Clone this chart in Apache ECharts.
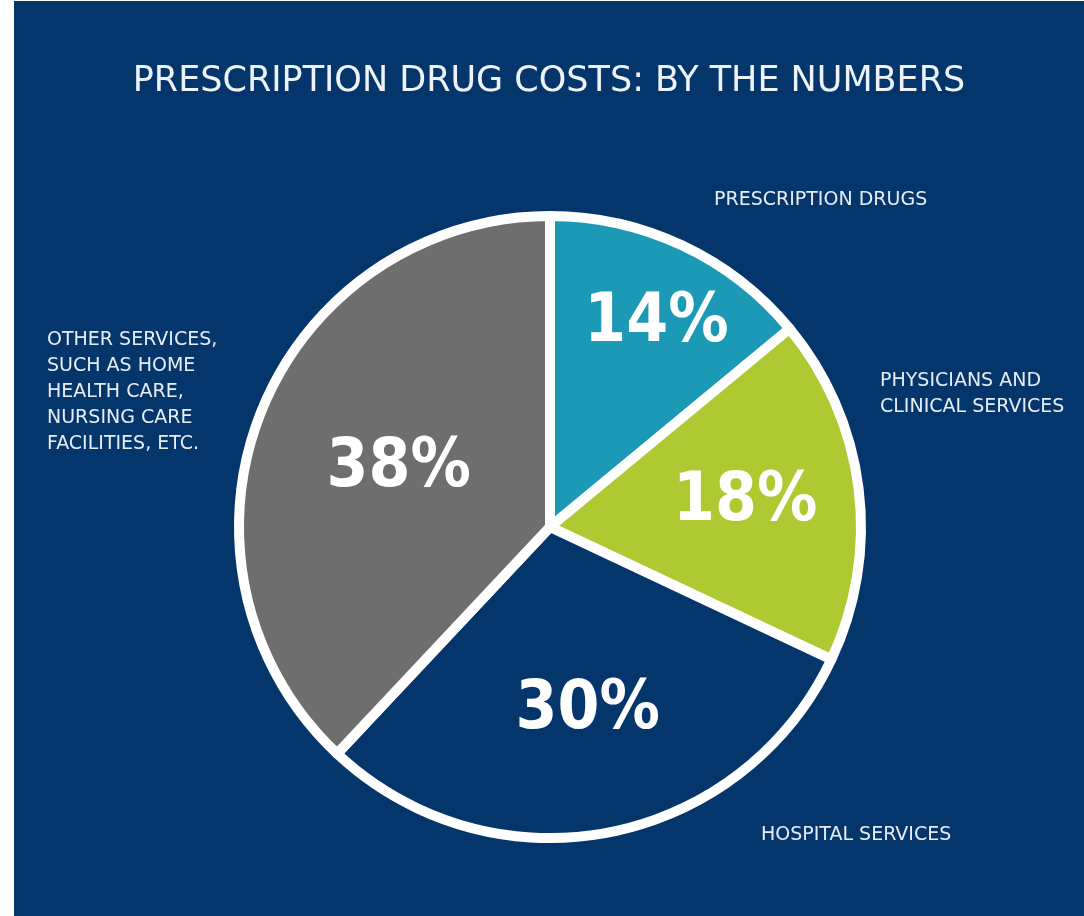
<!DOCTYPE html>
<html>
<head>
<meta charset="utf-8">
<script src="https://cdn.jsdelivr.net/npm/echarts@6/dist/echarts.min.js"></script>
<style>
  html, body { margin: 0; padding: 0; background: #ffffff; }
  #chart { position: absolute; left: 14px; top: 1px; width: 1070px; height: 915px; }
</style>
</head>
<body>
<div id="chart"></div>
<script>
// ---- data ----
const titleText = 'PRESCRIPTION DRUG COSTS: BY THE NUMBERS';
const categories = [
  'PRESCRIPTION DRUGS',
  'PHYSICIANS AND\nCLINICAL SERVICES',
  'HOSPITAL SERVICES',
  'OTHER SERVICES,\nSUCH AS HOME\nHEALTH CARE,\nNURSING CARE\nFACILITIES, ETC.'
];
const shares = [14, 18, 30, 38];

// ---- styles ----
const sliceColors = ['#1b99b5', '#afc932', '#05366b', '#6e6e6e'];
const pctOffsets = [[39, -60], [38, -5], [8, 28], [-4, 0]];
const nameBoxes = [[700, 186], [866, 367], [747, 821], [33, 326]];
const CX = 536, CY = 526, R = 311;

const chart = echarts.init(document.getElementById('chart'), null, { renderer: 'canvas' });

const pieData = categories.map((c, i) => ({
  name: c,
  value: shares[i],
  itemStyle: { color: sliceColors[i] },
  label: { offset: pctOffsets[i] }
}));

chart.setOption({
  backgroundColor: '#05366b',
  animation: false,
  title: {
    text: titleText,
    left: 'center',
    top: 58,
    textStyle: {
      color: '#eef3f8',
      fontFamily: 'DejaVu Sans',
      fontWeight: 'normal',
      fontSize: 35
    }
  },
  series: [
    {
      type: 'pie',
      center: [CX, CY],
      radius: [0, R],
      startAngle: 90,
      clockwise: true,
      silent: true,
      itemStyle: { borderColor: '#ffffff', borderWidth: 10 },
      label: {
        show: true,
        position: 'inside',
        formatter: p => p.value + '%',
        color: '#ffffff',
        fontFamily: 'DejaVu Sans Condensed',
        fontWeight: 'bold',
        fontSize: 67
      },
      labelLine: { show: false },
      data: pieData
    },
    {
      type: 'pie',
      center: [CX, CY],
      radius: [0, R],
      startAngle: 90,
      clockwise: true,
      silent: true,
      z: 1,
      itemStyle: { color: 'rgba(0,0,0,0)', borderWidth: 0 },
      label: {
        show: true,
        position: 'outside',
        formatter: p => p.name,
        color: '#e6edf5',
        fontFamily: 'DejaVu Sans',
        fontSize: 19,
        lineHeight: 26,
        align: 'left',
        overflow: 'none'
      },
      labelLine: { show: false },
      labelLayout: p => ({
        x: nameBoxes[p.dataIndex][0],
        y: nameBoxes[p.dataIndex][1],
        align: 'left',
        verticalAlign: 'top'
      }),
      data: categories.map((c, i) => ({ name: c, value: shares[i] }))
    }
  ]
});
</script>
</body>
</html>
